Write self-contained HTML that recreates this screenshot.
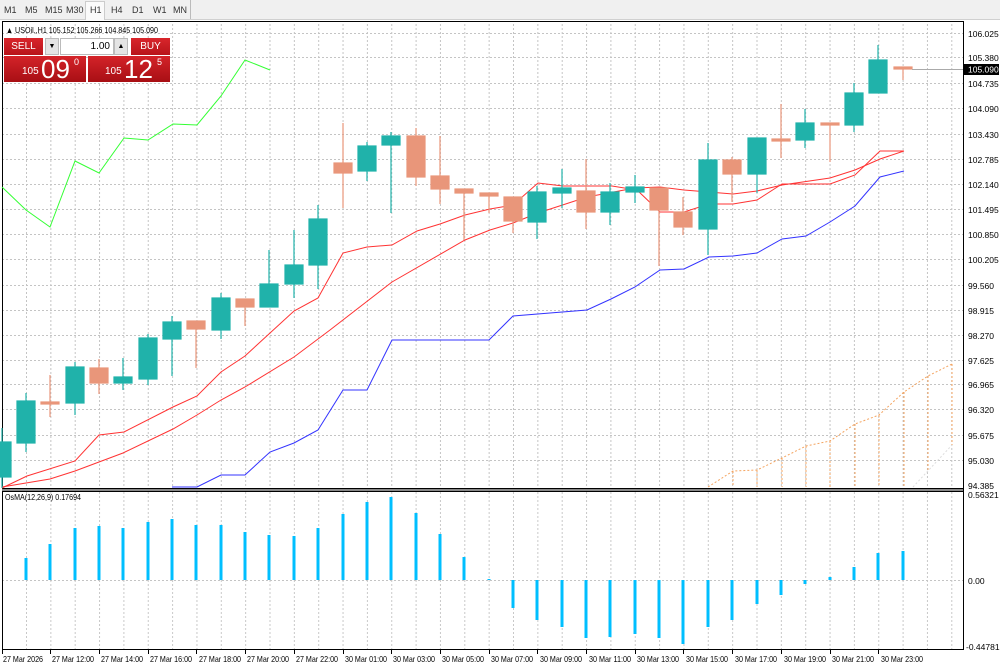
<!DOCTYPE html>
<html><head><meta charset="utf-8"><style>
body{margin:0;width:1000px;height:667px;overflow:hidden;background:#fff;font-family:"Liberation Sans",sans-serif;}
.tb{position:absolute;left:0;top:0;width:1000px;height:19px;background:#f0f0f0;border-bottom:1px solid #d0d0d0;font-size:9px;color:#333;}
.tb span{position:absolute;top:5px}
.panel{position:absolute;font-family:"Liberation Sans",sans-serif;color:#fff}
</style></head><body>
<div class="tb">
<span style="left:4px">M1</span><span style="left:25px">M5</span><span style="left:45px">M15</span><span style="left:66px">M30</span>
<div style="position:absolute;left:85px;top:1px;width:18px;height:18px;background:#fafafa;border:1px solid #ccc;border-bottom:none"></div>
<span style="left:90px">H1</span><span style="left:111px">H4</span><span style="left:132px">D1</span><span style="left:153px">W1</span><span style="left:173px">MN</span>
<div style="position:absolute;left:190px;top:0;width:1px;height:19px;background:#bbb"></div>
</div>
<svg width="1000" height="667" style="position:absolute;left:0;top:0" font-family="Liberation Sans, sans-serif">
<defs>
<pattern id="vg" x="1.65" y="0" width="24.35" height="4" patternUnits="userSpaceOnUse"><rect x="0" y="0" width="1" height="2" fill="#c4c4c4"/></pattern>
<pattern id="vg2" x="1.65" y="0" width="24.35" height="4" patternUnits="userSpaceOnUse"><rect x="0" y="0" width="1" height="2" fill="#c8c8c8"/></pattern>
</defs>
<rect x="2" y="22" width="961" height="466" fill="url(#vg)"/>
<rect x="2" y="492" width="961" height="158" fill="url(#vg2)"/>
<g stroke="#c4c4c4" stroke-dasharray="2,2" stroke-width="1">
<line x1="2" x2="963" y1="33.5" y2="33.5"/><line x1="2" x2="963" y1="57.5" y2="57.5"/><line x1="2" x2="963" y1="83.5" y2="83.5"/><line x1="2" x2="963" y1="108.5" y2="108.5"/><line x1="2" x2="963" y1="134.5" y2="134.5"/><line x1="2" x2="963" y1="159.5" y2="159.5"/><line x1="2" x2="963" y1="184.5" y2="184.5"/><line x1="2" x2="963" y1="209.5" y2="209.5"/><line x1="2" x2="963" y1="234.5" y2="234.5"/><line x1="2" x2="963" y1="259.5" y2="259.5"/><line x1="2" x2="963" y1="285.5" y2="285.5"/><line x1="2" x2="963" y1="310.5" y2="310.5"/><line x1="2" x2="963" y1="335.5" y2="335.5"/><line x1="2" x2="963" y1="360.5" y2="360.5"/><line x1="2" x2="963" y1="384.5" y2="384.5"/><line x1="2" x2="963" y1="409.5" y2="409.5"/><line x1="2" x2="963" y1="435.5" y2="435.5"/><line x1="2" x2="963" y1="460.5" y2="460.5"/>
<line x1="2" x2="963" y1="580.5" y2="580.5"/>
</g>
<rect x="2.5" y="21.5" width="961" height="467" fill="none" stroke="#000"/>
<line x1="2" x2="963" y1="490" y2="490" stroke="#888" stroke-width="2"/>
<rect x="2.5" y="491.5" width="961" height="158" fill="none" stroke="#000"/>
<line x1="963.5" y1="21" x2="963.5" y2="650" stroke="#000"/>

<g stroke="#f4a460" stroke-dasharray="2,2" fill="none">
<polyline points="708,487 733,471 757,470 782,458 806,446 830,441 855,424 879,415 904,392 928,376 952,364"/>
<line x1="733" y1="471" x2="733" y2="487"/><line x1="757" y1="470" x2="757" y2="487"/><line x1="782" y1="458" x2="782" y2="487"/><line x1="806" y1="446" x2="806" y2="487"/><line x1="830" y1="441" x2="830" y2="487"/><line x1="855" y1="424" x2="855" y2="487"/><line x1="879" y1="415" x2="879" y2="487"/><line x1="904" y1="392" x2="904" y2="487"/><line x1="928" y1="376" x2="928" y2="470"/><line x1="952" y1="364" x2="952" y2="445"/>
</g>
<line x1="913" y1="487" x2="952" y2="445" stroke="#ddd" stroke-dasharray="2,2"/>

<polyline fill="none" stroke="#33ff33" stroke-width="1" points="2,187 26,210 50,227 75,161 99,173 124,138 148,140 173,124 197,125 221,96 245,60 270,70"/>
<polyline fill="none" stroke="#3333ff" stroke-width="1" points="172,487 197,487 221,475 245,475 270,452 294,443 318,430 343,390 367,390 392,340 489,340 513,316 587,310 611,299 635,287 660,270 684,269 709,257 733,256 757,253 782,239 806,236 830,222 855,206 880,177 904,171"/>
<polyline fill="none" stroke="#ff3333" stroke-width="1" points="2,487 50,479 75,471 123,453 173,429 197,415 221,400 245,387 294,357 330,330 392,282 465,240 490,230 513,223 538,213 587,197 635,188 660,187 684,190 733,194 757,191 782,185 830,178 855,170 880,159 904,151"/>
<polyline fill="none" stroke="#ff3333" stroke-width="1" points="2,488 27,476 75,461 99,435 124,432 173,407 197,396 221,372 245,356 294,311 318,298 343,253 367,247 392,245 417,231 440,224 465,215 490,209 513,205 538,183 563,186 612,186 637,190 660,212 684,212 709,204 733,204 757,200 782,184 830,184 855,175 880,151 904,151"/>

<g stroke-width="1.2">
<g stroke="#20b2aa" fill="#20b2aa">
<line x1="2" y1="428" x2="2" y2="488"/><rect x="-7" y="442" width="18" height="35"/>
<line x1="26" y1="393" x2="26" y2="452"/><rect x="17" y="401" width="18" height="42"/>
<line x1="75" y1="362" x2="75" y2="415"/><rect x="66" y="367" width="18" height="36"/>
<line x1="123" y1="358" x2="123" y2="390"/><rect x="114" y="377" width="18" height="6"/>
<line x1="148" y1="334" x2="148" y2="385"/><rect x="139" y="338" width="18" height="41"/>
<line x1="172" y1="316" x2="172" y2="376"/><rect x="163" y="322" width="18" height="17"/>
<line x1="221" y1="293" x2="221" y2="339"/><rect x="212" y="298" width="18" height="32"/>
<line x1="269" y1="250" x2="269" y2="307"/><rect x="260" y="284" width="18" height="23"/>
<line x1="294" y1="230" x2="294" y2="298"/><rect x="285" y="265" width="18" height="19"/>
<line x1="318" y1="205" x2="318" y2="289"/><rect x="309" y="219" width="18" height="46"/>
<line x1="367" y1="142" x2="367" y2="181"/><rect x="358" y="146" width="18" height="25"/>
<line x1="391" y1="132" x2="391" y2="213"/><rect x="382" y="136" width="18" height="9"/>
<line x1="537" y1="186" x2="537" y2="239"/><rect x="528" y="192" width="18" height="30"/>
<line x1="562" y1="169" x2="562" y2="208"/><rect x="553" y="188" width="18" height="5"/>
<line x1="610" y1="183" x2="610" y2="225"/><rect x="601" y="192" width="18" height="20"/>
<line x1="635" y1="175" x2="635" y2="203"/><rect x="626" y="187" width="18" height="5"/>
<line x1="708" y1="143" x2="708" y2="255"/><rect x="699" y="160" width="18" height="69"/>
<line x1="757" y1="138" x2="757" y2="193"/><rect x="748" y="138" width="18" height="36"/>
<line x1="805" y1="109" x2="805" y2="148"/><rect x="796" y="123" width="18" height="17"/>
<line x1="854" y1="83" x2="854" y2="132"/><rect x="845" y="93" width="18" height="32"/>
<line x1="878" y1="45" x2="878" y2="93"/><rect x="869" y="60" width="18" height="33"/>
</g>
<g stroke="#e9967a" fill="#e9967a">
<line x1="50" y1="375" x2="50" y2="417"/><rect x="41" y="402" width="18" height="2"/>
<line x1="99" y1="359" x2="99" y2="394"/><rect x="90" y="368" width="18" height="15"/>
<line x1="196" y1="321" x2="196" y2="368"/><rect x="187" y="321" width="18" height="8"/>
<line x1="245" y1="299" x2="245" y2="326"/><rect x="236" y="299" width="18" height="8"/>
<line x1="343" y1="123" x2="343" y2="208"/><rect x="334" y="163" width="18" height="10"/>
<line x1="416" y1="128" x2="416" y2="186"/><rect x="407" y="136" width="18" height="41"/>
<line x1="440" y1="136" x2="440" y2="204"/><rect x="431" y="176" width="18" height="13"/>
<line x1="464" y1="189" x2="464" y2="240"/><rect x="455" y="189" width="18" height="4"/>
<line x1="489" y1="193" x2="489" y2="213"/><rect x="480" y="193" width="18" height="3"/>
<line x1="513" y1="197" x2="513" y2="233"/><rect x="504" y="197" width="18" height="24"/>
<line x1="586" y1="159" x2="586" y2="229"/><rect x="577" y="191" width="18" height="21"/>
<line x1="659" y1="188" x2="659" y2="266"/><rect x="650" y="188" width="18" height="22"/>
<line x1="683" y1="197" x2="683" y2="235"/><rect x="674" y="212" width="18" height="15"/>
<line x1="732" y1="157" x2="732" y2="202"/><rect x="723" y="160" width="18" height="14"/>
<line x1="781" y1="104" x2="781" y2="158"/><rect x="772" y="139" width="18" height="2"/>
<line x1="830" y1="123" x2="830" y2="162"/><rect x="821" y="123" width="18" height="2"/>
<line x1="903" y1="67" x2="903" y2="80"/><rect x="894" y="67" width="18" height="2"/>
</g>
</g>
<line x1="912" y1="69.5" x2="963" y2="69.5" stroke="#aaa"/>

<g stroke="#00bfff" stroke-width="3">
<line x1="26" x2="26" y1="580" y2="558"/><line x1="50" x2="50" y1="580" y2="544"/><line x1="75" x2="75" y1="580" y2="528"/><line x1="99" x2="99" y1="580" y2="526"/><line x1="123" x2="123" y1="580" y2="528"/><line x1="148" x2="148" y1="580" y2="522"/><line x1="172" x2="172" y1="580" y2="519"/><line x1="196" x2="196" y1="580" y2="525"/><line x1="221" x2="221" y1="580" y2="525"/><line x1="245" x2="245" y1="580" y2="532"/><line x1="269" x2="269" y1="580" y2="535"/><line x1="294" x2="294" y1="580" y2="536"/><line x1="318" x2="318" y1="580" y2="528"/><line x1="343" x2="343" y1="580" y2="514"/><line x1="367" x2="367" y1="580" y2="502"/><line x1="391" x2="391" y1="580" y2="497"/><line x1="416" x2="416" y1="580" y2="513"/><line x1="440" x2="440" y1="580" y2="534"/><line x1="464" x2="464" y1="580" y2="557"/><line x1="489" x2="489" y1="580" y2="579"/><line x1="513" x2="513" y1="580" y2="608"/><line x1="537" x2="537" y1="580" y2="620"/><line x1="562" x2="562" y1="580" y2="627"/><line x1="586" x2="586" y1="580" y2="638"/><line x1="610" x2="610" y1="580" y2="637"/><line x1="635" x2="635" y1="580" y2="634"/><line x1="659" x2="659" y1="580" y2="638"/><line x1="683" x2="683" y1="580" y2="644"/><line x1="708" x2="708" y1="580" y2="627"/><line x1="732" x2="732" y1="580" y2="620"/><line x1="757" x2="757" y1="580" y2="604"/><line x1="781" x2="781" y1="580" y2="595"/><line x1="805" x2="805" y1="580" y2="584"/><line x1="830" x2="830" y1="580" y2="577"/><line x1="854" x2="854" y1="580" y2="567"/><line x1="878" x2="878" y1="580" y2="553"/><line x1="903" x2="903" y1="580" y2="551"/>
</g>

<g font-size="8.5" fill="#000">
<text x="6" y="33" textLength="152" lengthAdjust="spacingAndGlyphs">▲ USOil.,H1  105.152 105.266 104.845 105.090</text>
<text x="5" y="500" textLength="76" lengthAdjust="spacingAndGlyphs">OsMA(12,26,9) 0.17694</text>
</g>
<g font-size="8.5" fill="#000">
<text x="968" y="37">106.025</text><text x="968" y="61">105.380</text><text x="968" y="87">104.735</text><text x="968" y="112">104.090</text><text x="968" y="138">103.430</text><text x="968" y="163">102.785</text><text x="968" y="188">102.140</text><text x="968" y="213">101.495</text><text x="968" y="238">100.850</text><text x="968" y="263">100.205</text><text x="968" y="289">99.560</text><text x="968" y="314">98.915</text><text x="968" y="339">98.270</text><text x="968" y="364">97.625</text><text x="968" y="388">96.965</text><text x="968" y="413">96.320</text><text x="968" y="439">95.675</text><text x="968" y="464">95.030</text><text x="968" y="489">94.385</text>
<text x="968" y="498">0.56321</text><text x="968" y="584">0.00</text><text x="966" y="650">-0.44781</text>
</g>
<rect x="964" y="64" width="35" height="11" fill="#000"/>
<text x="968" y="72.5" font-size="8.5" fill="#fff">105.090</text>
<g font-size="8.5" fill="#000" lengthAdjust="spacingAndGlyphs">
<text x="3" y="662" textLength="40" lengthAdjust="spacingAndGlyphs">27 Mar 2026</text><text x="52" y="662" textLength="42" lengthAdjust="spacingAndGlyphs">27 Mar 12:00</text><text x="101" y="662" textLength="42" lengthAdjust="spacingAndGlyphs">27 Mar 14:00</text><text x="150" y="662" textLength="42" lengthAdjust="spacingAndGlyphs">27 Mar 16:00</text><text x="199" y="662" textLength="42" lengthAdjust="spacingAndGlyphs">27 Mar 18:00</text><text x="247" y="662" textLength="42" lengthAdjust="spacingAndGlyphs">27 Mar 20:00</text><text x="296" y="662" textLength="42" lengthAdjust="spacingAndGlyphs">27 Mar 22:00</text><text x="345" y="662" textLength="42" lengthAdjust="spacingAndGlyphs">30 Mar 01:00</text><text x="393" y="662" textLength="42" lengthAdjust="spacingAndGlyphs">30 Mar 03:00</text><text x="442" y="662" textLength="42" lengthAdjust="spacingAndGlyphs">30 Mar 05:00</text><text x="491" y="662" textLength="42" lengthAdjust="spacingAndGlyphs">30 Mar 07:00</text><text x="540" y="662" textLength="42" lengthAdjust="spacingAndGlyphs">30 Mar 09:00</text><text x="589" y="662" textLength="42" lengthAdjust="spacingAndGlyphs">30 Mar 11:00</text><text x="637" y="662" textLength="42" lengthAdjust="spacingAndGlyphs">30 Mar 13:00</text><text x="686" y="662" textLength="42" lengthAdjust="spacingAndGlyphs">30 Mar 15:00</text><text x="735" y="662" textLength="42" lengthAdjust="spacingAndGlyphs">30 Mar 17:00</text><text x="784" y="662" textLength="42" lengthAdjust="spacingAndGlyphs">30 Mar 19:00</text><text x="832" y="662" textLength="42" lengthAdjust="spacingAndGlyphs">30 Mar 21:00</text><text x="881" y="662" textLength="42" lengthAdjust="spacingAndGlyphs">30 Mar 23:00</text>
</g>
<g stroke="#000"><line x1="2.5" y1="650" x2="2.5" y2="654"/><line x1="50.5" y1="650" x2="50.5" y2="654"/><line x1="99.5" y1="650" x2="99.5" y2="654"/><line x1="148.5" y1="650" x2="148.5" y2="654"/><line x1="196.5" y1="650" x2="196.5" y2="654"/><line x1="245.5" y1="650" x2="245.5" y2="654"/><line x1="294.5" y1="650" x2="294.5" y2="654"/><line x1="343.5" y1="650" x2="343.5" y2="654"/><line x1="391.5" y1="650" x2="391.5" y2="654"/><line x1="440.5" y1="650" x2="440.5" y2="654"/><line x1="489.5" y1="650" x2="489.5" y2="654"/><line x1="537.5" y1="650" x2="537.5" y2="654"/><line x1="586.5" y1="650" x2="586.5" y2="654"/><line x1="635.5" y1="650" x2="635.5" y2="654"/><line x1="683.5" y1="650" x2="683.5" y2="654"/><line x1="732.5" y1="650" x2="732.5" y2="654"/><line x1="781.5" y1="650" x2="781.5" y2="654"/><line x1="830.5" y1="650" x2="830.5" y2="654"/><line x1="878.5" y1="650" x2="878.5" y2="654"/></g>
</svg>

<div class="panel" style="left:4px;top:38px;width:39px;height:17px;background:linear-gradient(#d9262c,#b8141a);font-size:10px;text-align:center;line-height:17px">SELL</div>
<div style="position:absolute;left:45px;top:38px;width:14px;height:17px;background:#e4e4e4;border:1px solid #bbb;box-sizing:border-box;font-size:7px;text-align:center;line-height:15px">▼</div>
<div style="position:absolute;left:60px;top:38px;width:54px;height:17px;background:#fff;border:1px solid #bbb;box-sizing:border-box;font-size:10px;text-align:right;line-height:15px;padding-right:3px;font-family:'Liberation Sans',sans-serif">1.00</div>
<div style="position:absolute;left:114px;top:38px;width:14px;height:17px;background:#e4e4e4;border:1px solid #bbb;box-sizing:border-box;font-size:7px;text-align:center;line-height:15px">▲</div>
<div class="panel" style="left:131px;top:38px;width:39px;height:17px;background:linear-gradient(#d9262c,#b8141a);font-size:10px;text-align:center;line-height:17px">BUY</div>
<div class="panel" style="left:4px;top:56px;width:82px;height:26px;background:linear-gradient(#d42329,#a80f14)">
<span style="position:absolute;left:18px;top:10px;font-size:10px">105</span><span style="position:absolute;left:37px;top:-2px;font-size:26px">09</span><span style="position:absolute;left:70px;top:1px;font-size:9px">0</span></div>
<div class="panel" style="left:88px;top:56px;width:82px;height:26px;background:linear-gradient(#d42329,#a80f14)">
<span style="position:absolute;left:17px;top:10px;font-size:10px">105</span><span style="position:absolute;left:36px;top:-2px;font-size:26px">12</span><span style="position:absolute;left:69px;top:1px;font-size:9px">5</span></div>
</body></html>
